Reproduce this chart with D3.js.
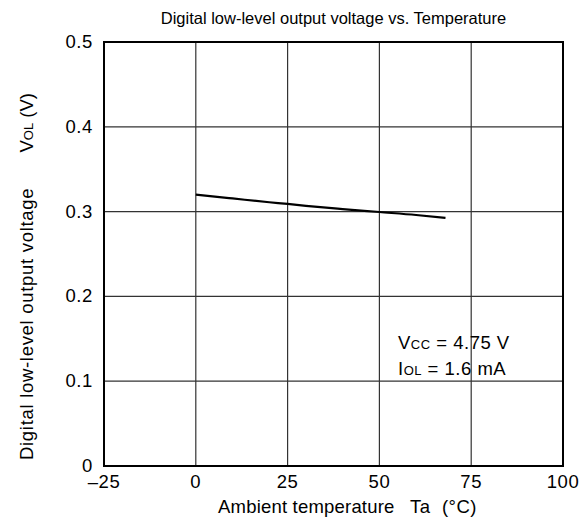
<!DOCTYPE html>
<html>
<head>
<meta charset="utf-8">
<script src="https://cdn.jsdelivr.net/npm/d3@7"></script>
<style>
  body { margin: 0; background: #fff; }
  text { font-family: "Liberation Sans", Arial, sans-serif; fill: #000; white-space: pre; }
</style>
</head>
<body>
<svg id="chart" width="587" height="523"></svg>
<script>
// data
var temps = [0, 10, 20, 25, 30, 40, 50, 60, 68];
var vol = [0.320, 0.3155, 0.311, 0.309, 0.3068, 0.303, 0.2995, 0.296, 0.2925];
var xTicks = [-25, 0, 25, 50, 75, 100];
var yTicks = [0, 0.1, 0.2, 0.3, 0.4, 0.5];

var svg = d3.select("#chart");
var pLeft = 104, pRight = 563, pTop = 42, pBottom = 466;

var x = d3.scaleLinear().domain([-25, 100]).range([pLeft, pRight]);
var y = d3.scaleLinear().domain([0, 0.5]).range([pBottom, pTop]);

// grid
svg.append("g").selectAll("line")
  .data(xTicks.slice(1, -1))
  .enter().append("line")
    .attr("x1", function(d) { return x(d); })
    .attr("x2", function(d) { return x(d); })
    .attr("y1", pTop).attr("y2", pBottom)
    .attr("stroke", "#333").attr("stroke-width", 1.2);

svg.append("g").selectAll("line")
  .data(yTicks.slice(1, -1))
  .enter().append("line")
    .attr("y1", function(d) { return y(d); })
    .attr("y2", function(d) { return y(d); })
    .attr("x1", pLeft).attr("x2", pRight)
    .attr("stroke", "#333").attr("stroke-width", 1.2);

// frame
svg.append("rect")
  .attr("x", pLeft).attr("y", pTop)
  .attr("width", pRight - pLeft).attr("height", pBottom - pTop)
  .attr("fill", "none").attr("stroke", "#000").attr("stroke-width", 2);

// curve
var line = d3.line()
  .x(function(d, i) { return x(temps[i]); })
  .y(function(d) { return y(d); })
  .curve(d3.curveMonotoneX);

svg.append("path")
  .datum(vol)
  .attr("d", line)
  .attr("fill", "none")
  .attr("stroke", "#000")
  .attr("stroke-width", 2.2);

// tick labels
svg.append("g").selectAll("text")
  .data(xTicks)
  .enter().append("text")
    .attr("x", function(d) { return x(d); })
    .attr("y", 488)
    .attr("text-anchor", "middle")
    .style("font-size", "18.5px")
    .style("letter-spacing", "0.6px")
    .text(function(d) { return d < 0 ? "\u2013" + Math.abs(d) : d; });

svg.append("g").selectAll("text")
  .data(yTicks)
  .enter().append("text")
    .attr("x", 93)
    .attr("y", function(d) { return y(d) + 6; })
    .attr("text-anchor", "end")
    .style("font-size", "18.5px")
    .style("letter-spacing", "0.6px")
    .text(function(d) { return d === 0 ? "0" : d3.format(".1f")(d); });

// title
svg.append("text")
  .attr("x", (pLeft + pRight) / 2)
  .attr("y", 24)
  .attr("text-anchor", "middle")
  .style("font-size", "16.5px")
  .text("Digital low-level output voltage vs. Temperature");

// x axis label, two pieces
svg.append("text")
  .attr("x", 218).attr("y", 513)
  .style("font-size", "18.5px")
  .style("letter-spacing", "0.2px")
  .text("Ambient temperature");
svg.append("text")
  .attr("x", 477).attr("y", 513)
  .attr("text-anchor", "end")
  .style("font-size", "18.5px")
  .style("letter-spacing", "0.5px")
  .text("Ta  (\u00b0C)");

// y axis label, two pieces
svg.append("text")
  .attr("transform", "translate(33,460) rotate(-90)")
  .style("font-size", "18.5px")
  .style("letter-spacing", "0.7px")
  .text("Digital low-level output voltage");
var yl = svg.append("text")
  .attr("transform", "translate(33,93) rotate(-90)")
  .attr("text-anchor", "end")
  .style("font-size", "18.5px");
yl.append("tspan").text("V");
yl.append("tspan").style("font-size", "13px").text("OL");
yl.append("tspan").text(" (V)");

// conditions
var c1 = svg.append("text").attr("x", 398).attr("y", 349)
  .style("font-size", "18.5px").style("letter-spacing", "0.5px");
c1.append("tspan").text("V");
c1.append("tspan").style("font-size", "13px").text("CC");
c1.append("tspan").text(" = 4.75 V");

var c2 = svg.append("text").attr("x", 398).attr("y", 375)
  .style("font-size", "18.5px").style("letter-spacing", "0.5px");
c2.append("tspan").text("I");
c2.append("tspan").style("font-size", "13px").text("OL");
c2.append("tspan").text(" = 1.6 mA");
</script>
</body>
</html>
